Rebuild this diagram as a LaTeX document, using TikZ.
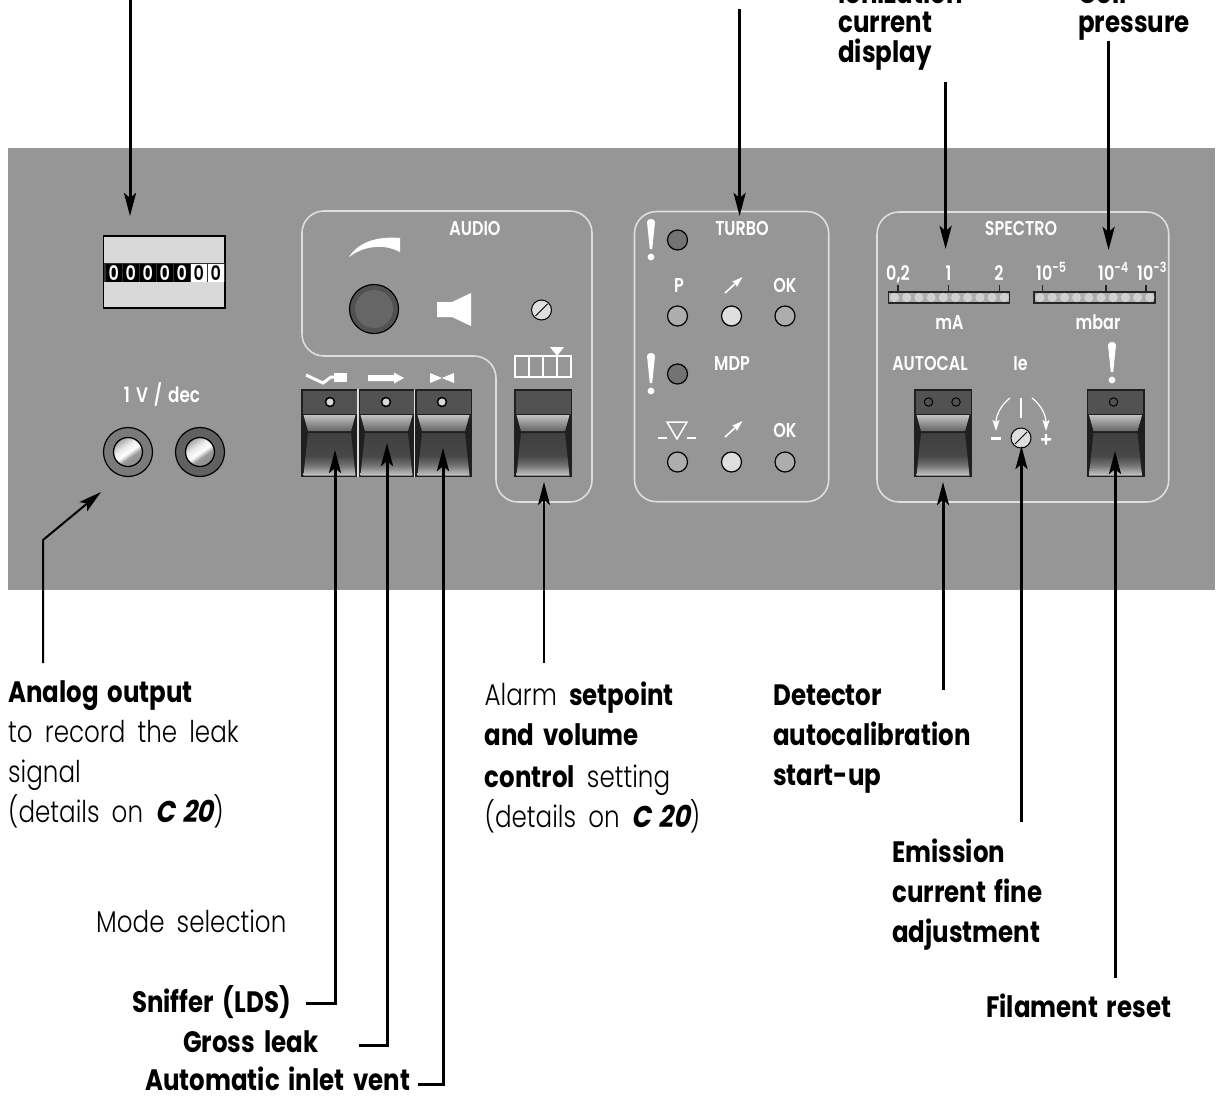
\documentclass[tikz,border=0pt]{standalone}
\usepackage{fontspec}
\usetikzlibrary{arrows.meta,calc}
\newfontfamily\fbold[FakeStretch=0.83,WordSpace=1.7]{Poppins Bold}
\newfontfamily\flight[FakeStretch=0.82,WordSpace=1.8]{Poppins Light}
\newfontfamily\fitalic[FakeStretch=0.85,FakeSlant=0.2,WordSpace=1.4]{Poppins Bold}
\newfontfamily\fpanel[FakeStretch=0.8,WordSpace=1.5]{Poppins SemiBold}
\definecolor{panelgrey}{HTML}{969696}
\definecolor{outl}{HTML}{DEDEDE}
\pgfdeclareverticalshading{rockerlow}{100bp}{color(0bp)=(black!22); color(25bp)=(black!22); color(37bp)=(black!55); color(48bp)=(black!72); color(75bp)=(black!75); color(100bp)=(black!75)}
\pgfdeclareverticalshading{rockerup}{100bp}{color(0bp)=(black!60); color(25bp)=(black!60); color(75bp)=(black!24); color(100bp)=(black!24)}
\pgfdeclareverticalshading{chrome}{100bp}{color(0bp)=(black!45); color(25bp)=(black!45); color(40bp)=(black!40); color(49bp)=(white); color(60bp)=(black!8); color(75bp)=(black!35); color(100bp)=(black!35)}
\tikzset{
 labb/.style={anchor=base west,inner sep=0pt,font=\fbold\fontsize{29.5}{29.5}\selectfont,text=black},
 labl/.style={anchor=base west,inner sep=0pt,font=\flight\fontsize{30}{30}\selectfont,text=black},
 plab/.style={anchor=base,inner sep=0pt,font=\fpanel\fontsize{20}{20}\selectfont,text=white},
 conn/.style={line width=3pt,-{Stealth[length=23pt,width=12pt,inset=5pt]}},
 thinconn/.style={line width=2pt,-{Stealth[length=23pt,width=12pt,inset=5pt]}},
 outline/.style={draw=outl,line width=1.6pt,rounded corners=22pt},
 lamp/.style={draw=black,line width=1.2pt},
 icon/.style={draw=white,line width=1.5pt},
 tinyarrow/.style={draw=white,line width=1.6pt,-{Stealth[length=11pt,width=7pt,inset=2pt]}}
}
\newcommand{\excl}[2]{%
 \fill[white] (#1-4,#2+3) .. controls (#1-4,#2-1) and (#1+4,#2-1) .. (#1+4,#2+3) -- (#1+1.2,#2+30) -- (#1-1.2,#2+30) -- cycle;
 \fill[white] (#1,#2+38) circle (3.4);}
\newcommand{\rocker}[2]{%
 \fill[black!88] (#1,389) rectangle (#2,477);
 \fill[black!68] (#1+1.5,390.5) rectangle (#2-1.5,413.5);
 \shade[shading=rockerup] (#1+2.5,415) -- (#2-2.5,415) -- (#2-7,431) -- (#1+7,431) -- cycle;
 \shade[shading=rockerlow] (#1+7,433) -- (#2-7,433) -- (#2-2.5,475.5) -- (#1+2.5,475.5) -- cycle;}
\newcommand{\screw}[2]{%
 \draw[fill=black!13,draw=black,line width=1pt] (#1,#2) circle (10);
 \draw[black,line width=1pt] (#1-6,#2+6) -- (#1+6,#2-6);}
\begin{document}
\begin{tikzpicture}[x=1pt,y=-1pt]
\useasboundingbox (0,0) rectangle (1217,1095);
\fill[panelgrey] (8,148) rectangle (1215,590);
% counter
\draw[fill=black!15,draw=black,line width=1.3pt] (103.5,236) rectangle (225,308);
\fill[black!80] (104,263) rectangle (224.5,282);
\foreach \i/\cf/\ct in {0/black/white,1/black/white,2/black/white,3/black/white,4/black/white,5/white/black,6/white/black}{
 \fill[\cf] ({106+17*\i},264) rectangle ({121.5+17*\i},281.5);
 \node[inner sep=0pt,anchor=base,text=\ct,font=\fpanel\fontsize{20}{20}\selectfont] (digit\i) at ({113.7+17*\i},280) {0};
}
% jacks
\node[plab,font=\fpanel\fontsize{21}{21}\selectfont] (dec) at (162,402) {1 V / dec};
\foreach \x/\c/\n in {128/black!52/ja,200/black!62/jb}{
 \draw[fill=\c,draw=black,line width=1.2pt] (\x,452) circle (24.5);
 \shade[shading=chrome,shading angle=35,draw=black,line width=1.3pt] (\x,452) circle (14.5);
}
% audio outline
\draw[outline] (302,260) -- (302,211) -- (592,211) -- (592,502) -- (496,502) -- (496,356) -- (302,356) -- cycle;
\node[plab] (audio) at (475,235) {AUDIO};
\fill[white] (349,257) .. controls (358,243) and (375,236) .. (400,238) -- (400,252) .. controls (385,244) and (365,245) .. (349,257) -- cycle;
\draw[fill=black!68,draw=black,line width=1.2pt] (374,309) circle (24.5);
\fill[black!60] (374,309) circle (19);
\fill[white] (437,302) -- (452,302) -- (471,293) -- (471,326) -- (452,317) -- (437,317) -- cycle;
\screw{541.5}{310}
\draw[icon] (515,356) rectangle (571,377);
\draw[icon] (529,356) -- (529,377) (543,356) -- (543,377) (557,356) -- (557,377);
\fill[white] (550,347) -- (564,347) -- (557,356) -- cycle;
% mode symbols
\draw[white,line width=3pt] (306,375) -- (323,383) -- (331,377) -- (341,377);
\fill[white] (334,372.5) rectangle (347,381.5);
\fill[white] (368,375) rectangle (394,381) (394,372.5) -- (404,378) -- (394,383.5) -- cycle;
\fill[white] (430,373) -- (442,378) -- (430,383) -- cycle (454,373) -- (442,378) -- (454,383) -- cycle;
% switches
\rocker{301}{358}
\rocker{358}{415}
\rocker{415}{472}
\draw[outl,line width=1.2pt] (358,389) -- (358,477) (414.5,389) -- (414.5,477);
\foreach \x in {330,386,442}{\draw[fill=black!15,draw=black,line width=1.5pt] (\x,402) circle (4.5);}
\rocker{514}{572}
% turbo
\draw[outline] (634.5,260) -- (634.5,211.5) -- (828.7,211.5) -- (828.7,501.7) -- (634.5,501.7) -- cycle;
\excl{651}{219}
\excl{651}{353}
\draw[lamp,fill=black!55] (677.5,240) circle (10);
\draw[lamp,fill=black!55] (677.5,374) circle (10);
\node[plab] (turbo) at (742,235) {TURBO};
\node[plab] (mdp) at (732,370) {MDP};
\node[plab] (pp) at (679,292) {P};
\node[plab] (oka) at (785,292) {OK};
\node[plab] (okb) at (785,437) {OK};
\draw[tinyarrow] (725,293) -- (742.5,277);
\draw[tinyarrow] (725,437) -- (742.5,421);
\foreach \y in {316,462}{
 \draw[lamp,fill=black!32] (677.5,\y) circle (10);
 \draw[lamp,fill=black!13] (731.5,\y) circle (10);
 \draw[lamp,fill=black!32] (785,\y) circle (10);
}
\draw[icon] (667,422) -- (687,422) -- (677,439) -- cycle;
\draw[icon] (658,438) -- (667,438) (687,438) -- (696,438);
% spectro
\draw[outline] (877,260) -- (877,212) -- (1168.7,212) -- (1168.7,502) -- (877,502) -- cycle;
\node[plab] (spectro) at (1021,235) {SPECTRO};
\foreach \a/\n in {888.5/0,1034/1}{
 \draw[fill=black!32,draw=black!85,line width=1.6pt] (\a,292) rectangle (\a+121,303);
 \foreach \k in {0,...,9}{\fill[black!18] ({\a+6+12.2*\k},297.5) circle (4.6);}
}
\draw[black!85,line width=1.2pt] (898,285) -- (898,292) (948.6,285) -- (948.6,292) (999.7,285) -- (999.7,292) (1042.7,285) -- (1042.7,292) (1106,285) -- (1106,292) (1146,285) -- (1146,292);
\node[plab] (s02) at (898,280) {0,2};
\node[plab] (s1) at (948.6,280) {1};
\node[plab] (s2) at (999,280) {2};
\node[plab,anchor=base west] (e5) at (1036,280) {10\raisebox{8pt}{\fontsize{14}{14}\selectfont -5}};
\node[plab,anchor=base west] (e4) at (1098,280) {10\raisebox{8pt}{\fontsize{14}{14}\selectfont -4}};
\node[plab,anchor=base west] (e3) at (1137,280) {10\raisebox{8pt}{\fontsize{14}{14}\selectfont -3}};
\node[plab] (ma) at (949.4,329) {mA};
\node[plab] (mbar) at (1098,329) {mbar};
\node[plab] (autocal) at (930,370) {AUTOCAL};
\node[plab] (ie) at (1020.6,370) {Ie};
\excl{1112}{342}
\rocker{914}{972}
\rocker{1086.5}{1144.5}
\draw[fill=black!68,draw=black,line width=1pt] (928.5,402) circle (4.2) (956,402) circle (4.2) (1113.5,402) circle (4.2);
\draw[white,line width=1.5pt] (1021,398) -- (1021,418);
\draw[tinyarrow,line width=1.2pt] (1010,398) .. controls (1001,405) and (996,415) .. (996,431);
\draw[tinyarrow,line width=1.2pt] (1032,398) .. controls (1041,405) and (1046,415) .. (1046,431);
\fill[white] (991,436.5) rectangle (1001,440);
\fill[white] (1041,438) rectangle (1051,440.5) (1044.8,434) rectangle (1047.2,444.5);
\screw{1021}{438}
% labels
\node[labb] (lion) at (838,3) {Ionization};
\node[labb] (lcur) at (838,32) {current};
\node[labb] (ldis) at (838,62) {display};
\node[labb] (lcoil) at (1078,3) {Coil};
\node[labb] (lpre) at (1078,32) {pressure};
\node[labb] (lana) at (8,702) {Analog output};
\node[labl] (lrec) at (8,742) {to record the leak};
\node[labl] (lsig) at (8,782) {signal};
\node[labl] (ldet) at (8,822) {(details on {\fitalic C 20})};
\node[labl] (lala) at (484.5,705) {Alarm {\fbold\fontsize{29.5}{29.5}\selectfont setpoint}};
\node[labb] (lvol) at (484.5,745) {and volume};
\node[labl] (lset) at (484.5,787) {{\fbold\fontsize{29.5}{29.5}\selectfont control} setting};
\node[labl] (ldeb) at (484.5,827) {(details on {\fitalic C 20})};
\node[labb] (ldetc) at (773,705) {Detector};
\node[labb] (lauto) at (773,745) {autocalibration};
\node[labb] (lstart) at (773,785) {start-up};
\node[labb] (lemi) at (892,862) {Emission};
\node[labb] (lfine) at (892,902) {current fine};
\node[labb] (ladj) at (892,942) {adjustment};
\node[labb] (lfil) at (986,1017) {Filament reset};
\node[labl] (lmode) at (96,932) {Mode selection};
\node[labb] (lsni) at (132,1012) {Sniffer (LDS)};
\node[labb] (lgro) at (183,1052) {Gross leak};
\node[labb] (laut) at (145,1090) {Automatic inlet vent};
% connector ends
\coordinate (c1s) at (130,0); \coordinate (c1e) at (130,216);
\coordinate (c2s) at (739.6,9); \coordinate (c2e) at (739.6,216);
\coordinate (c3s) at (945.6,82); \coordinate (c3e) at (945.6,249);
\coordinate (c4s) at (1108.6,41); \coordinate (c4e) at (1108.6,250);
\coordinate (c5s) at (43,663); \coordinate (c5b) at (43,540); \coordinate (c5e) at (101,492);
\coordinate (c6s) at (306,1003); \coordinate (c6b) at (335,1003); \coordinate (c6e) at (335,450);
\coordinate (c7s) at (359,1045); \coordinate (c7b) at (387,1045); \coordinate (c7e) at (387,443);
\coordinate (c8s) at (418,1084); \coordinate (c8b) at (443,1084); \coordinate (c8e) at (443,448);
\coordinate (c9s) at (544,663); \coordinate (c9e) at (544,482);
\coordinate (c10s) at (943,690); \coordinate (c10e) at (943,482);
\coordinate (c11s) at (1021.5,822); \coordinate (c11e) at (1021.5,446);
\coordinate (c12s) at (1115,978); \coordinate (c12e) at (1115,451);
\draw[conn] (c1s) -- (c1e);
\draw[conn] (c2s) -- (c2e);
\draw[conn] (c3s) -- (c3e);
\draw[conn] (c4s) -- (c4e);
\draw[thinconn] (c5s) -- (c5b) -- (c5e);
\draw[conn] (c6s) -- (c6b) -- (c6e);
\draw[conn] (c7s) -- (c7b) -- (c7e);
\draw[conn] (c8s) -- (c8b) -- (c8e);
\draw[thinconn] (c9s) -- (c9e);
\draw[conn] (c10s) -- (c10e);
\draw[conn] (c11s) -- (c11e);
\draw[conn] (c12s) -- (c12e);
\end{tikzpicture}
\end{document}
